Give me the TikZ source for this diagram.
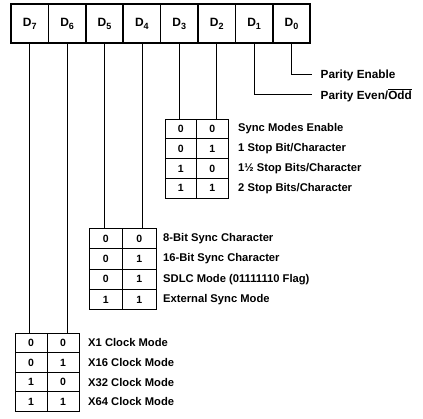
\documentclass[tikz,border=0pt]{standalone}
\usepackage{fontspec}
\setmainfont{Liberation Sans}
\newcommand{\regsub}[1]{\raisebox{-0.25em}{\fontsize{9}{10}\selectfont #1}}
\begin{document}
\begin{tikzpicture}[x=1pt,y=-1pt,
 reg/.style={draw,line width=1.6pt,minimum width=37.4pt,minimum height=39pt,inner sep=0pt,font=\bfseries\fontsize{12}{13}\selectfont},
 bit/.style={draw,line width=0.8pt,minimum height=#1,inner sep=0pt,font=\bfseries\fontsize{10.5}{12}\selectfont},
 lab/.style={anchor=west,inner sep=0pt,font=\bfseries\fontsize{11.2}{13}\selectfont},
 plab/.style={lab,font=\bfseries\fontsize{11.8}{13}\selectfont},
 conn/.style={line width=0.8pt}]
\useasboundingbox (0,0) rectangle (423,418);
% register
\foreach \n [count=\i from 0] in {7,6,5,4,3,2,1,0}
  \node[reg] (d\n) at ({29.7+37.4*\i},23.5) {D\regsub{\n}};
% table 1 (D3 D2)
\foreach \a/\b/\t [count=\r from 0] in {0/0/{Sync Modes Enable},0/1/{1 Stop Bit/Character},1/0/{1½ Stop Bits/Character},1/1/{2 Stop Bits/Character}}{
  \node[bit=19.8pt,minimum width=31.5pt] (ta\r a) at (180.75,{119+19.8*(\r+0.5)}) {\a};
  \node[bit=19.8pt,minimum width=31.5pt] (ta\r b) at (212.25,{119+19.8*(\r+0.5)}) {\b};
  \node[lab] (la\r) at (238,{119+19.8*(\r+0.5)}) {\t};
}
% table 2 (D5 D4)
\foreach \a/\b/\t [count=\r from 0] in {0/0/{8-Bit Sync Character},0/1/{16-Bit Sync Character},0/1/{SDLC Mode (01111110 Flag)},1/1/{External Sync Mode}}{
  \node[bit=20.3pt,minimum width=33.5pt] (tb\r a) at (105.75,{228.5+20.3*(\r+0.5)}) {\a};
  \node[bit=20.3pt,minimum width=33.5pt] (tb\r b) at (139.25,{228.5+20.3*(\r+0.5)}) {\b};
  \node[lab] (lb\r) at (163,{228.5+20.3*(\r+0.5)}) {\t};
}
% table 3 (D7 D6)
\foreach \a/\b/\t [count=\r from 0] in {0/0/{X1 Clock Mode},0/1/{X16 Clock Mode},1/0/{X32 Clock Mode},1/1/{X64 Clock Mode}}{
  \node[bit=19.6pt,minimum width=32pt] (tc\r a) at (31,{333+19.6*(\r+0.5)}) {\a};
  \node[bit=19.6pt,minimum width=32pt] (tc\r b) at (63,{333+19.6*(\r+0.5)}) {\b};
  \node[lab] (lc\r) at (88,{333+19.6*(\r+0.5)}) {\t};
}
% parity labels
\node[plab] (pen) at (320.5,75.5) {Parity Enable};
\node[plab] (peo) at (320.5,95.5) {Parity Even/$\overline{\mbox{Odd}}$};
\coordinate (pena) at (311.5,74);
\coordinate (peoa) at (311.5,94.5);
% connectors
\draw[conn] (d0.south) |- (pena);
\draw[conn] (d1.south) |- (peoa);
\draw[conn] (d3.south) -- (d3.south |- ta0a.north);
\draw[conn] (d2.south) -- (d2.south |- ta0b.north);
\draw[conn] (d5.south) -- (d5.south |- tb0a.north);
\draw[conn] (d4.south) -- (d4.south |- tb0b.north);
\draw[conn] (d7.south) -- (d7.south |- tc0a.north);
\draw[conn] (d6.south) -- (d6.south |- tc0b.north);
\end{tikzpicture}
\end{document}
